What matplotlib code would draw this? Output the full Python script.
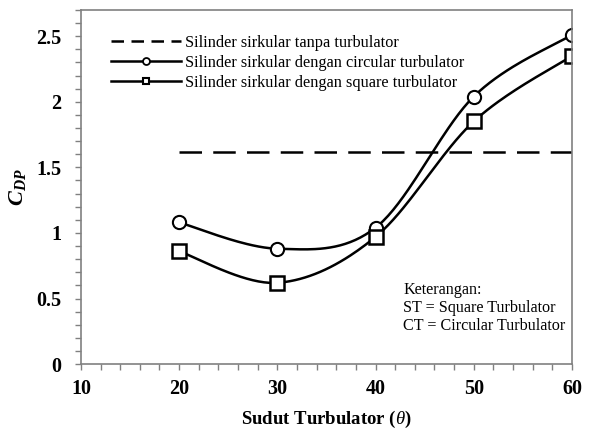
import numpy as np
import matplotlib
matplotlib.use("Agg")
import matplotlib.pyplot as plt
from matplotlib.lines import Line2D

plt.rcParams['font.family'] = ['Liberation Serif', 'DejaVu Serif']
plt.rcParams['mathtext.fontset'] = 'custom'
plt.rcParams['mathtext.rm'] = 'Liberation Serif'
plt.rcParams['mathtext.it'] = 'Liberation Serif:italic'
plt.rcParams['mathtext.bf'] = 'Liberation Serif:bold'
plt.rcParams['mathtext.bfit'] = 'Liberation Serif:italic:bold'

sudut = [20, 30, 40, 50, 60]
cdp_circular = [1.08, 0.88, 1.04, 2.04, 2.51]
cdp_square = [0.86, 0.62, 0.97, 1.85, 2.35]
cdp_tanpa = 1.62
tanpa_x = [20, 60]


def smooth(xs, ys, n=40):
    # kurva halus ala Excel (bezier dengan titik kontrol catmull-rom)
    x = np.asarray(xs, float)
    y = np.asarray(ys, float)
    px = np.concatenate([[x[0]], x, [x[-1]]])
    py = np.concatenate([[y[0]], y, [y[-1]]])
    out_x, out_y = [], []
    t = np.linspace(0, 1, n)
    for i in range(1, len(px) - 2):
        p0 = np.array([px[i], py[i]])
        p3 = np.array([px[i + 1], py[i + 1]])
        c1 = p0 + (np.array([px[i + 1], py[i + 1]]) - np.array([px[i - 1], py[i - 1]])) / 6
        c2 = p3 - (np.array([px[i + 2], py[i + 2]]) - np.array([px[i], py[i]])) / 6
        b = ((1 - t) ** 3)[:, None] * p0 + (3 * (1 - t) ** 2 * t)[:, None] * c1 \
            + (3 * (1 - t) * t ** 2)[:, None] * c2 + (t ** 3)[:, None] * p3
        out_x.extend(b[:, 0])
        out_y.extend(b[:, 1])
    return out_x, out_y


fig = plt.figure(figsize=(6.13, 4.34), dpi=100)
ax = fig.add_axes([0.132, 0.161, 0.801, 0.816])

ax.plot(tanpa_x, [cdp_tanpa, cdp_tanpa], color='black', lw=1.8, dashes=(9, 4.5))
sx, sy = smooth(sudut, cdp_circular)
ax.plot(sx, sy, color='black', lw=1.8)
ax.plot(sudut, cdp_circular, 'o', ms=9.5, mfc='white', mec='black', mew=1.5)
sx, sy = smooth(sudut, cdp_square)
ax.plot(sx, sy, color='black', lw=1.8)
ax.plot(sudut, cdp_square, 's', ms=9.5, mfc='white', mec='black', mew=1.8)

ax.set_xlim(10, 60)
ax.set_ylim(0, 2.7)
ax.set_xticks([10, 20, 30, 40, 50, 60])
ax.set_xticks(np.arange(10, 61, 2), minor=True)
ax.set_yticks([0, 0.5, 1, 1.5, 2, 2.5])
ax.set_yticklabels(['0', '0.5', '1', '1.5', '2', '2.5'])
ax.set_yticks(np.arange(0, 2.71, 0.1), minor=True)
for lab in ax.get_xticklabels() + ax.get_yticklabels():
    lab.set_fontweight('bold')
    lab.set_fontsize(14.5)
ax.tick_params(which='both', direction='out', length=4, color='#808080', width=1)
ax.tick_params(axis='y', which='major', pad=10)
ax.tick_params(axis='x', which='major', pad=7)
for s in ax.spines.values():
    s.set_color('#808080')
    s.set_linewidth(1.2)

ax.set_xlabel('Sudut Turbulator ($\\it{\\theta}$)', fontsize=13.5, fontweight='bold', labelpad=7)
ax.set_ylabel(r'$\mathbfit{C}_{\mathbfit{DP}}$', fontsize=16, labelpad=6)

handles = [
    Line2D([], [], color='black', lw=1.8, dashes=(5, 3)),
    Line2D([], [], color='black', lw=1.8, marker='o', ms=5, mfc='white', mec='black', mew=1.3),
    Line2D([], [], color='black', lw=1.8, marker='s', ms=5, mfc='white', mec='black', mew=1.5),
]
labels = ['Silinder sirkular tanpa turbulator',
          'Silinder sirkular dengan circular turbulator',
          'Silinder sirkular dengan square turbulator']
ax.legend(handles, labels, loc='upper left', bbox_to_anchor=(0.032, 0.972), frameon=False,
          fontsize=11.7, handlelength=4.3, handletextpad=0.25, labelspacing=0.25)

ax.text(0.656, 0.232, 'Keterangan:\nST = Square Turbulator\nCT = Circular Turbulator',
        transform=ax.transAxes, fontsize=11.6, va='top', ha='left', linespacing=1.18)

fig.savefig('out.png', dpi=100)
